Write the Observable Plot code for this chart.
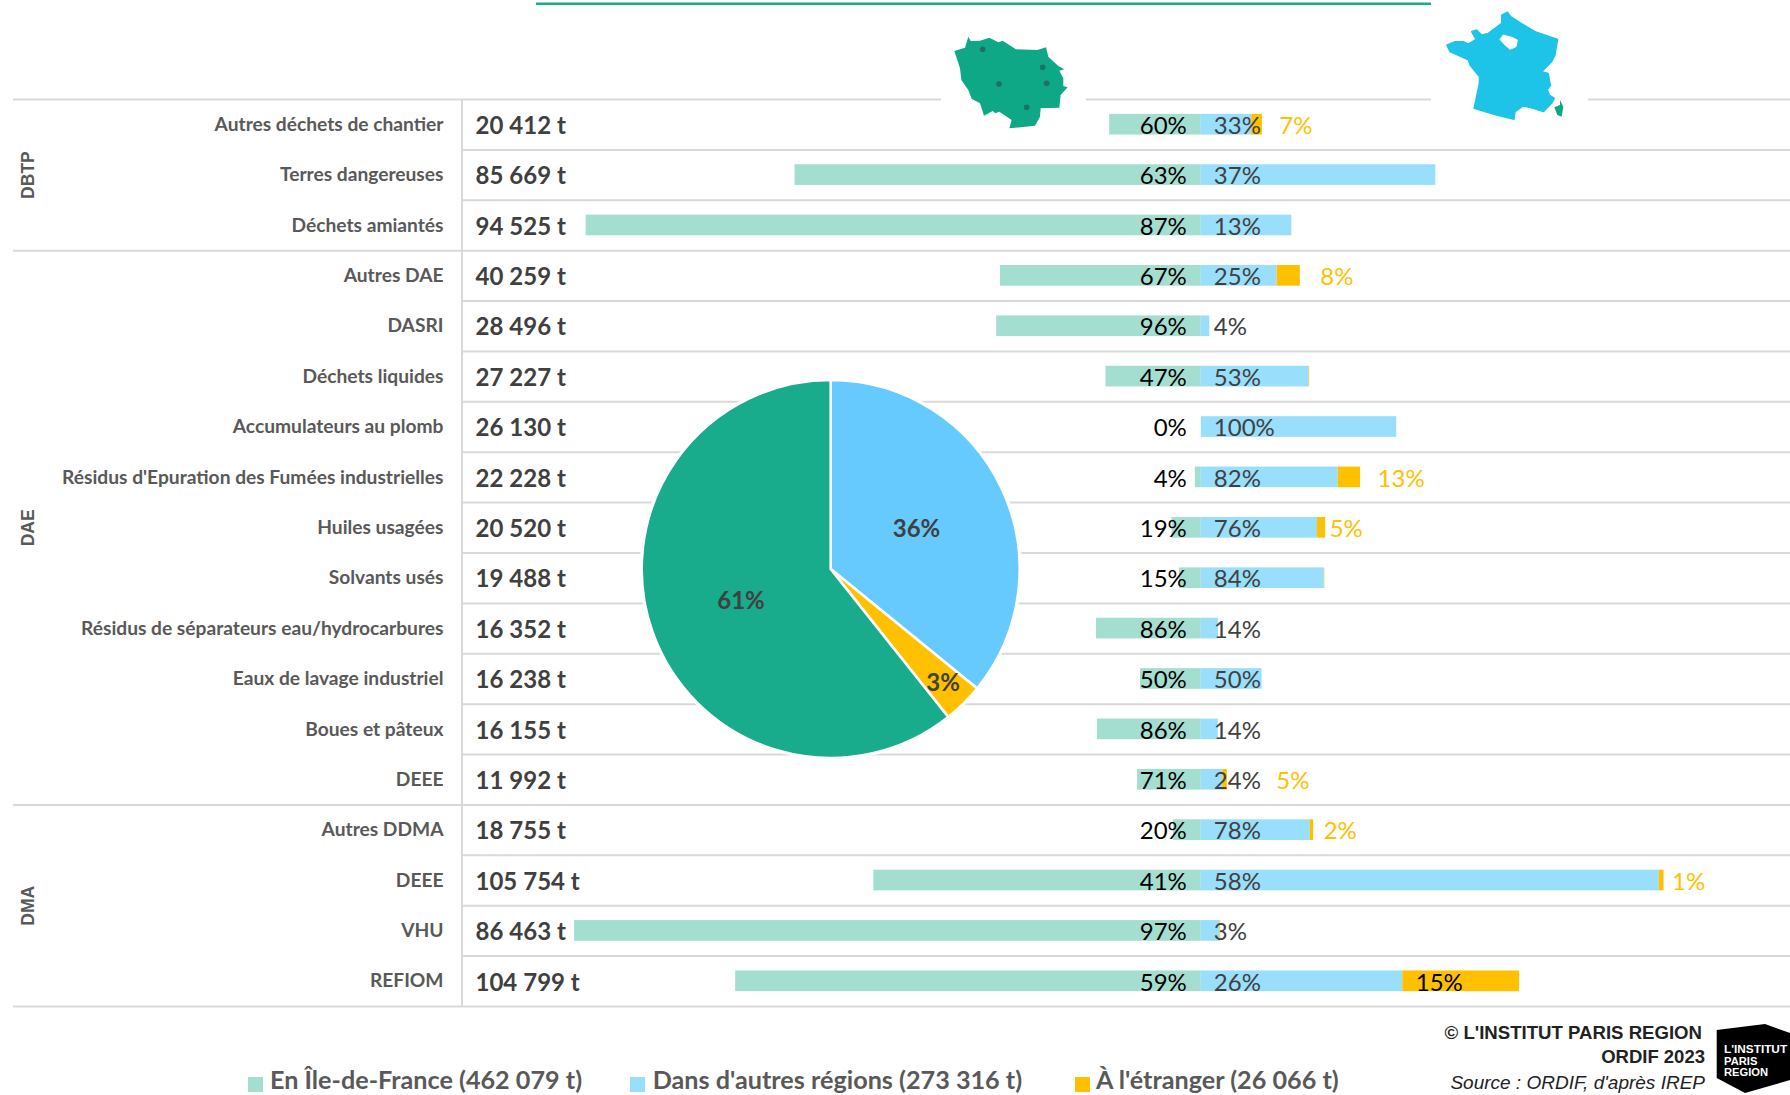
<!DOCTYPE html>
<html lang="fr">
<head>
<meta charset="utf-8">
<title>Déchets dangereux – destination</title>
<script src="https://cdn.jsdelivr.net/npm/d3@7"></script>
<script src="https://cdn.jsdelivr.net/npm/@observablehq/plot@0.6"></script>
<style>
html,body{margin:0;padding:0;background:#fff;overflow:hidden;width:1790px;height:1095px;font-family:Lato,sans-serif}
#chart{position:absolute;left:0;top:0;width:1790px;height:1020px}
#chart svg{display:block}
#footer{position:absolute;left:0;top:1020px;width:1790px;height:75px}
#footer .lg{position:absolute;top:47px;height:24px;line-height:24px;font-size:25.2px;font-weight:700;color:#595959;white-space:nowrap}
#footer .sw{position:absolute;top:57px;width:15px;height:15px}
#footer .cr{position:absolute;right:85px;white-space:nowrap;font-family:"Liberation Sans",sans-serif;color:#222;line-height:20px}
#footer svg{position:absolute;left:1700px;top:0}
</style>
</head>
<body>
<div id="chart"></div>
<div id="footer"></div>
<script>
// Data
const rowNames = ["Autres déchets de chantier","Terres dangereuses","Déchets amiantés","Autres DAE","DASRI","Déchets liquides","Accumulateurs au plomb","Résidus d'Epuration des Fumées industrielles","Huiles usagées","Solvants usés","Résidus de séparateurs eau/hydrocarbures","Eaux de lavage industriel","Boues et pâteux","DEEE","Autres DDMA","DEEE","VHU","REFIOM"];
const totals = [20412,85669,94525,40259,28496,27227,26130,22228,20520,19488,16352,16238,16155,11992,18755,105754,86463,104799];
const pctIdf    = [60,63.4,87,66.7,96,46.8,0,3.6,19,15,85.7,50,86,71,19.8,41.4,96.9,59.4];
const pctOther  = [33,36.6,12.8,25.2,4,52.9,100,82.4,75.7,84.4,14,50,14,24,77.7,57.9,2.9,25.7];
const pctAbroad = [7,0,0,7.7,0,0.3,0,13.4,5.3,0.3,0,0,0,5,2.4,0.6,0.1,14.9];
const groups = [{name:"DBTP",first:0,last:3},{name:"DAE",first:3,last:14},{name:"DMA",first:14,last:18}];
const pieNames = ["Dans d'autres régions","À l'étranger","En Île-de-France"];
const pieValues = [273316,26066,462079];
const pieLabels = ["36%","3%","61%"];
const legendNames = ["En Île-de-France (462 079 t)","Dans d'autres régions (273 316 t)","À l'étranger (26 066 t)"];

// Styles
const paleGreen="#A3DED0", paleBlue="#99DFFB", gold="#FFC000", grid="#D9D9D9";
const pieColors=["#66CAFF","#FFC000","#18AB8C"];

// x scale: tonnes, centred on the Île-de-France / elsewhere boundary
const zeroPx=1200.8, pxPerT=0.00748;
const tAt=p=>(p-zeroPx)/pxPerT;
const fmtT=n=>d3.format(",")(n).replace(/,/g,"\u202f")+" t";

const table=rowNames.map((name,i)=>{
  const a=totals[i]*pctIdf[i]/100,b=totals[i]*pctOther[i]/100,c=totals[i]*pctAbroad[i]/100;
  return {i,name,total:totals[i],idf:pctIdf[i],other:pctOther[i],abroad:pctAbroad[i],a,b,c};
});
const barH=0.205;
const rowRule=new Set([0,3,14,18]);
const abroadGap=new Map([[0,17],[3,20],[7,17],[8,4],[13,49],[14,10],[15,8]]);

const pctFont={fontFamily:"Lato",fontSize:24};

// Pie: slices built with d3 inside a Plot render function
function pieMark(){
  const cx=830.7,cy=569,R=189;
  const g=d3.create("svg:g").attr("transform",`translate(${cx},${cy})`);
  g.append("circle").attr("r",191).attr("fill","#fff");
  const arcs=d3.pie().sort(null)(pieValues);
  const arc=d3.arc().innerRadius(0).outerRadius(R);
  g.selectAll("path.s").data(arcs).join("path").attr("class","s")
    .attr("d",arc).attr("fill",(d,i)=>pieColors[i]).attr("stroke","#fff").attr("stroke-width",2.6)
    .append("title").text((d,i)=>pieNames[i]);
  const labelR=[95,160,95];
  g.selectAll("text").data(arcs).join("text")
    .attr("transform",(d,i)=>`translate(${d3.arc().innerRadius(labelR[i]).outerRadius(labelR[i]).centroid(d)})`)
    .attr("text-anchor","middle").attr("dy","0.35em")
    .attr("font-family","Lato").attr("font-size",24).attr("font-weight",700).attr("fill","#404040")
    .text((d,i)=>pieLabels[i]);
  return g.node();
}

// Map pictograms in their own little drawing space (3 units per pixel)
function mapsMark(){
  const g=d3.create("svg:g");
  const idf=g.append("g").attr("transform","translate(930,0) scale(0.3333)");
  idf.append("path").attr("fill","#0FA887").attr("d","M115,110L122,123L150,122L178,113L205,127L218,122L258,148L322,150L348,142L355,170L385,198L403,208L388,212L400,235L400,258L413,262L392,285L388,323L332,325L330,350L315,377L238,385L245,360L208,335L196,340L188,333L162,347L150,310L125,296L115,270L94,240L90,205L73,153L105,143Z");
  [[158,148],[338,202],[350,250],[207,252],[290,322]].forEach(([x,y])=>idf.append("circle").attr("cx",x).attr("cy",y).attr("r",8.5).attr("fill","#1F6F62"));
  const fr=g.append("g").attr("transform","translate(1420,0) scale(0.3333)");
  fr.append("path").attr("fill","#1EC3E8").attr("stroke","#1EC3E8").attr("stroke-width",4).attr("stroke-linejoin","round").attr("d","M262,36L272,50L300,68L345,95L413,118L405,165L395,185L365,215L385,220L390,250L392,257L382,268L388,285L403,295L395,310L370,335L340,325L310,318L285,335L282,358L230,345L162,325L178,250L178,230L150,195L145,180L90,155L80,135L105,125L130,125L145,132L168,118L155,95L170,90L185,105L205,100L245,70L245,45Z");
  fr.append("path").attr("fill","#fff").attr("stroke","#fff").attr("stroke-width",3).attr("stroke-linejoin","round").attr("d","M240,118L250,105L275,112L292,120L288,140L270,148L250,130Z");
  fr.append("path").attr("fill","#0FA887").attr("d","M420,300L430,320L425,350L412,345L403,322L420,315Z");
  return g.node();
}

const rowY=f=>d=>d.i+f;
const chart=Plot.plot({
  width:1790,height:1020,
  marginTop:99,marginBottom:14,marginLeft:0,marginRight:0,
  x:{domain:[tAt(0),tAt(1790)],range:[0,1790],axis:null},
  y:{domain:[0,18],range:[99,1006],axis:null},
  style:{fontFamily:"Lato",background:"transparent"},
  marks:[
    // teal rule under the (cropped) title
    Plot.ruleY([-1.9],{x1:tAt(536),x2:tAt(1431),stroke:"#18AB8C",strokeWidth:2.6}),
    // grid
    Plot.ruleY([[13,941],[1086,1431],[1588,1790]],{y:()=>0,x1:d=>tAt(d[0]),x2:d=>tAt(d[1]),stroke:grid,strokeWidth:2}),
    Plot.ruleY(d3.range(1,19).filter(r=>!rowRule.has(r)),{x1:tAt(462),x2:tAt(1790),stroke:grid,strokeWidth:2}),
    Plot.ruleY([3,14,18],{x1:tAt(13),x2:tAt(1790),stroke:grid,strokeWidth:2}),
    Plot.ruleX([tAt(461.5)],{y1:0,y2:18,stroke:grid,strokeWidth:2}),
    // stacked bars around zero
    Plot.rect(table,{x1:d=>-d.a,x2:0,y1:rowY(0.5-barH),y2:rowY(0.5+barH),fill:paleGreen}),
    Plot.rect(table,{x1:0,x2:d=>d.b,y1:rowY(0.5-barH),y2:rowY(0.5+barH),fill:paleBlue}),
    Plot.rect(table.filter(d=>d.c>0),{x1:d=>d.b,x2:d=>d.b+d.c,y1:rowY(0.5-barH),y2:rowY(0.5+barH),fill:gold}),
    // row labels and totals
    Plot.text(table,{x:tAt(443),y:rowY(0.5),text:"name",textAnchor:"end",fontSize:19.2,fontWeight:700,fill:"#595959"}),
    Plot.text(table,{x:tAt(475),y:rowY(0.53),text:d=>fmtT(d.total),textAnchor:"start",fontSize:24,fontWeight:700,fill:"#404040"}),
    // percent labels
    Plot.text(table,{x:0,dx:-14.5,y:rowY(0.53),text:d=>Math.round(d.idf)+"%",textAnchor:"end",fill:"#000",...pctFont}),
    Plot.text(table,{x:0,dx:12.5,y:rowY(0.53),text:d=>Math.round(d.other)+"%",textAnchor:"start",fill:"#404040",...pctFont}),
    ...table.filter(d=>abroadGap.has(d.i)).map(d=>Plot.text([d],{x:r=>r.b+r.c,dx:abroadGap.get(d.i),y:rowY(0.53),text:r=>Math.round(r.abroad)+"%",textAnchor:"start",fill:gold,...pctFont})),
    Plot.text(table.filter(d=>d.i===17),{x:d=>d.b,dx:13,y:rowY(0.53),text:d=>Math.round(d.abroad)+"%",textAnchor:"start",fill:"#000",...pctFont}),
    // group labels
    Plot.text(groups,{x:tAt(27.5),y:d=>(d.first+d.last)/2,text:"name",rotate:-90,fontFamily:"Liberation Sans",fontSize:17.5,fontWeight:700,fill:"#595959"}),
    pieMark,
    mapsMark
  ]
});
document.getElementById("chart").append(chart);

// Legend and credits below the SVG
const footer=d3.select("#footer");
const lgX=[[248,270,paleGreen],[630,652.7,paleBlue],[1075,1096,gold]];
legendNames.forEach((t,i)=>{
  footer.append("div").attr("class","sw").style("left",lgX[i][0]+"px").style("background",lgX[i][2]);
  footer.append("div").attr("class","lg").style("left",lgX[i][1]+"px").text(t);
});
footer.append("div").attr("class","cr").style("top","3px").style("right","88px").style("font-size","18.6px").style("font-weight","700").text("© L'INSTITUT PARIS REGION");
footer.append("div").attr("class","cr").style("top","27px").style("font-size","18.5px").style("font-weight","700").text("ORDIF 2023");
footer.append("div").attr("class","cr").style("top","53px").style("font-size","19px").style("font-style","italic").text("Source : ORDIF, d'après IREP");
const logo=footer.append("svg").attr("width",90).attr("height",75);
logo.append("path").attr("fill","#000").attr("d","M16.7,10L65,4L90,13L90,60L45,73L16.7,58Z");
[["L'INSTITUT",33,11.8,24],["PARIS",45,11.2,24],["REGION",56,11.2,24]].forEach(([t,y,s,x])=>logo.append("text").attr("x",x).attr("y",y).attr("fill","#fff").attr("font-family","Liberation Sans").attr("font-weight",700).attr("font-size",s).text(t));
</script>
</body>
</html>
